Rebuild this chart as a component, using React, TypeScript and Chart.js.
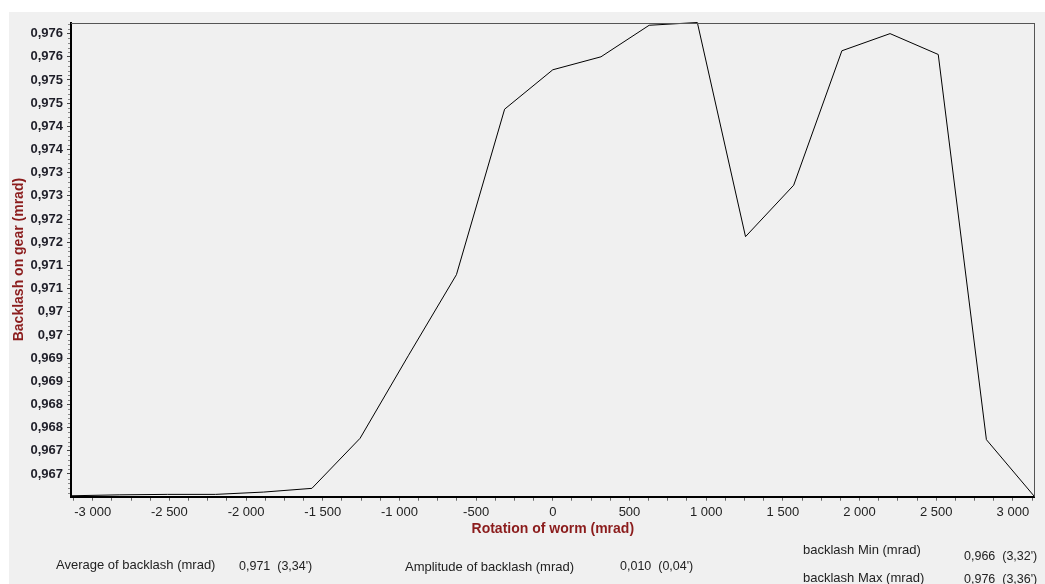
import React, { useEffect, useRef } from 'react';
import { Chart, registerables } from 'chart.js';

Chart.register(...registerables);

// Rotation of worm (mrad)
const rotation = [
  -3141.59, -2827.43, -2513.27, -2199.11, -1884.96, -1570.8, -1256.64, -942.48, -628.32, -314.16,
  0, 314.16, 628.32, 942.48, 1256.64, 1570.8, 1884.96, 2199.11, 2513.27, 2827.43, 3141.59,
];
// Backlash on gear (mrad)
const backlash = [
  0.96603, 0.96605, 0.96606, 0.96606, 0.96611, 0.96619, 0.96727, 0.96905, 0.9708, 0.97437,
  0.97522, 0.9755, 0.97618, 0.97624, 0.97162, 0.97273, 0.97563, 0.976, 0.97555, 0.96724, 0.96601,
];

const statLabels = [
  'Average of backlash (mrad)',
  'Amplitude of backlash (mrad)',
  'backlash Min (mrad)',
  'backlash Max (mrad)',
];
const statValues = ["0,971  (3,34')", "0,010  (0,04')", "0,966  (3,32')", "0,976  (3,36')"];

const FONT = '"Liberation Sans", Arial, sans-serif';
const TITLE_RED = '#8b1c1c';

function fmtX(v: number): string {
  const n = Math.round(v);
  if (n % 500 !== 0) return '';
  const s = Math.abs(n).toString().replace(/\B(?=(\d{3})+(?!\d))/g, ' ');
  return (n < 0 ? '-' : '') + s;
}

function fmtY(v: number): string {
  const tenth = Math.round(v * 10000);
  const r = Math.round(tenth / 10) / 1000;
  return r.toString().replace('.', ',');
}

const framePlugin = {
  id: 'frame',
  afterDraw(chart: any) {
    const { ctx, chartArea: a, scales } = chart;
    ctx.save();
    ctx.lineWidth = 1;
    ctx.strokeStyle = '#555555';
    ctx.beginPath();
    const top = Math.round(a.top) + 0.5;
    const right = Math.round(a.right) - 0.5;
    ctx.moveTo(a.left, top);
    ctx.lineTo(right + 0.5, top);
    ctx.moveTo(right, top);
    ctx.lineTo(right, a.bottom);
    ctx.stroke();
    // minor ticks on y axis
    const y = scales.y;
    ctx.strokeStyle = '#888888';
    ctx.beginPath();
    for (let i = Math.ceil(y.min * 10000); i <= Math.floor(y.max * 10000); i++) {
      if (i % 5 === 0) continue;
      const py = Math.round(y.getPixelForValue(i / 10000)) + 0.5;
      ctx.moveTo(a.left - 3, py);
      ctx.lineTo(a.left - 1, py);
    }
    ctx.stroke();
    ctx.restore();
  },
};

export default function App() {
  const ref = useRef<HTMLCanvasElement>(null);

  useEffect(() => {
    const yMin = Math.min(...backlash);
    const yMax = Math.max(...backlash);
    const chart = new Chart(ref.current as HTMLCanvasElement, {
      type: 'line',
      data: {
        datasets: [
          {
            data: rotation.map((x, i) => ({ x, y: backlash[i] })),
            borderColor: '#000000',
            borderWidth: 1,
            pointRadius: 0,
            tension: 0,
            fill: false,
            clip: false,
          } as any,
        ],
      },
      options: {
        responsive: false,
        animation: false,
        devicePixelRatio: 1,
        layout: { padding: { top: 10.5, right: 10.4, bottom: 0, left: 0 } },
        plugins: {
          legend: { display: false },
          tooltip: { enabled: false },
        },
        scales: {
          x: {
            type: 'linear',
            min: -3141.59,
            max: 3141.59,
            border: { display: true, color: '#000000', width: 2 },
            grid: { drawOnChartArea: false, drawTicks: true, tickLength: 4, tickColor: '#666666' },
            ticks: {
              stepSize: 125,
              includeBounds: false,
              autoSkip: false,
              maxRotation: 0,
              minRotation: 0,
              padding: 4,
              color: '#222222',
              font: { family: FONT, size: 13 },
              callback: (v: any) => fmtX(Number(v)),
            },
            title: {
              display: true,
              text: 'Rotation of worm (mrad)',
              color: TITLE_RED,
              font: { family: FONT, size: 14, weight: 'bold' },
              padding: { top: 0, bottom: 46 },
            },
            afterFit: (s: any) => {
              s.height = 87.3;
              s.paddingLeft = 0;
              s.paddingRight = 0;
            },
          },
          y: {
            type: 'linear',
            min: yMin,
            max: yMax,
            border: { display: true, color: '#000000', width: 2 },
            grid: { drawOnChartArea: false, drawTicks: true, tickLength: 4, tickColor: '#444444' },
            ticks: {
              stepSize: 0.0005,
              includeBounds: false,
              autoSkip: false,
              padding: 4,
              color: '#1e1e28',
              font: { family: FONT, size: 13, weight: 'bold' },
              callback: (v: any) => fmtY(Number(v)),
            },
            title: {
              display: true,
              text: 'Backlash on gear (mrad)',
              color: TITLE_RED,
              font: { family: FONT, size: 14, weight: 'bold' },
              padding: { top: 2, bottom: 0 },
            },
            afterFit: (s: any) => {
              s.width = 62;
              s.paddingTop = 0;
              s.paddingBottom = 0;
            },
          },
        },
      } as any,
      plugins: [framePlugin],
    });
    return () => chart.destroy();
  }, []);

  const statPos = [
    { l: [47, 553], v: [230, 554] },
    { l: [396, 555], v: [611, 554] },
    { l: [794, 538], v: [955, 544] },
    { l: [794, 566], v: [955, 567] },
  ];

  return (
    <div
      style={{
        position: 'absolute',
        left: 9,
        top: 12,
        width: 1036,
        height: 572,
        background: '#f0f0f0',
        overflow: 'hidden',
        fontFamily: FONT,
        color: '#222222',
      }}
    >
      <canvas ref={ref} width={1036} height={572} style={{ display: 'block' }} />
      {statLabels.map((t, i) => (
        <React.Fragment key={t}>
          <div
            style={{
              position: 'absolute',
              left: statPos[i].l[0],
              top: statPos[i].l[1] - 8,
              lineHeight: '16px',
              fontSize: 13,
              whiteSpace: 'pre',
            }}
          >
            {t}
          </div>
          <div
            style={{
              position: 'absolute',
              left: statPos[i].v[0],
              top: statPos[i].v[1] - 8,
              lineHeight: '16px',
              fontSize: 12.5,
              whiteSpace: 'pre',
            }}
          >
            {statValues[i]}
          </div>
        </React.Fragment>
      ))}
    </div>
  );
}
